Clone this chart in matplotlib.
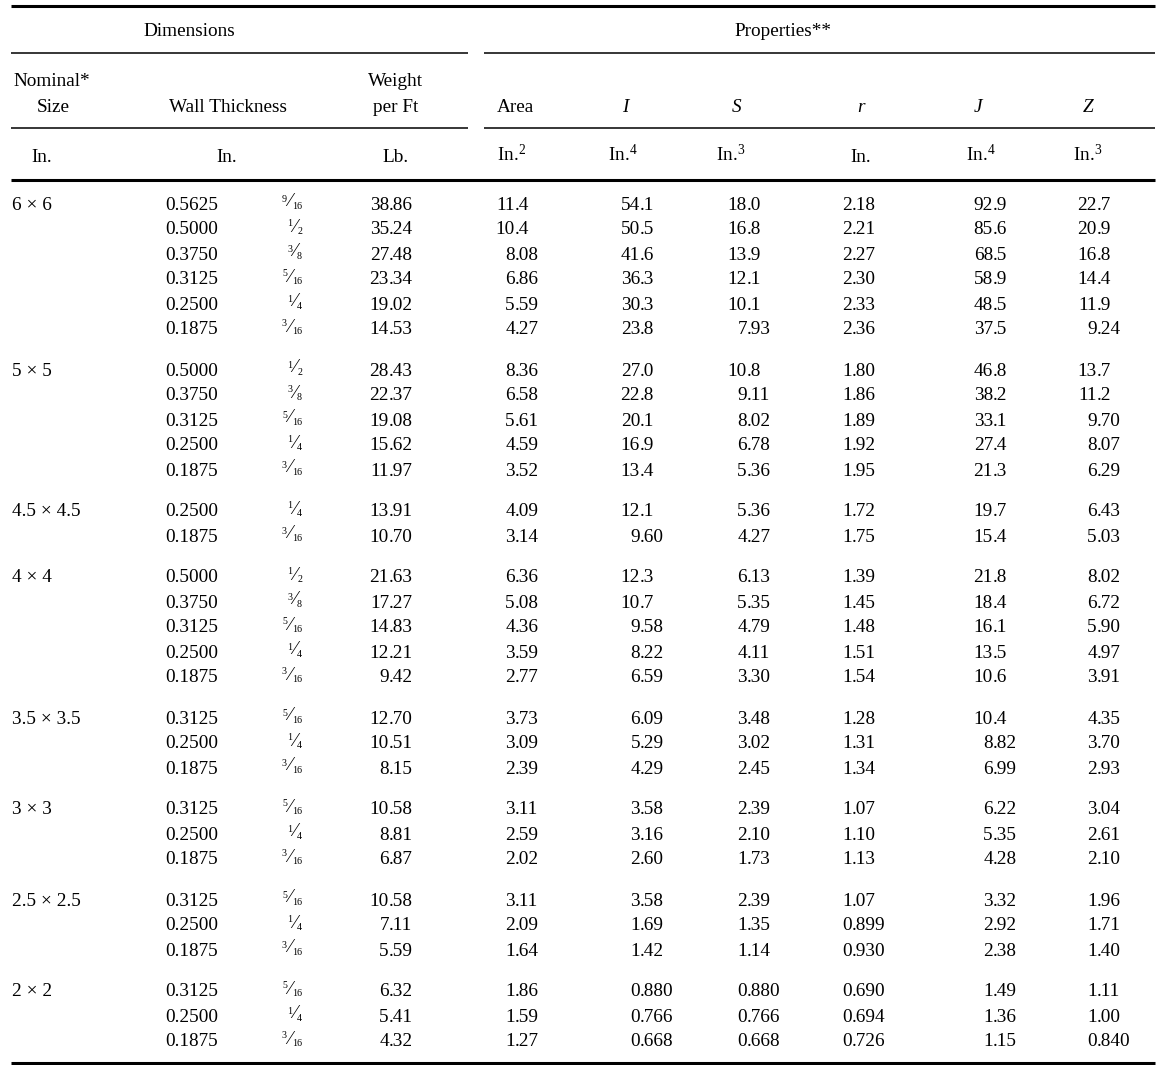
import matplotlib.pyplot as plt

plt.rcParams['font.family'] = 'Liberation Serif'
plt.rcParams['mathtext.fontset'] = 'custom'
plt.rcParams['mathtext.rm'] = 'Liberation Serif'
plt.rcParams['mathtext.it'] = 'Liberation Serif:italic'

# table data (square tubing)
sizes = ["6 × 6", "5 × 5", "4.5 × 4.5", "4 × 4", "3.5 × 3.5", "3 × 3", "2.5 × 2.5", "2 × 2"]
group_rows = [6, 5, 2, 5, 3, 3, 3, 3]

wall = ["0.5625", "0.5000", "0.3750", "0.3125", "0.2500", "0.1875",
        "0.5000", "0.3750", "0.3125", "0.2500", "0.1875",
        "0.2500", "0.1875",
        "0.5000", "0.3750", "0.3125", "0.2500", "0.1875",
        "0.3125", "0.2500", "0.1875",
        "0.3125", "0.2500", "0.1875",
        "0.3125", "0.2500", "0.1875",
        "0.3125", "0.2500", "0.1875"]
wall_frac = ["9/16", "1/2", "3/8", "5/16", "1/4", "3/16",
             "1/2", "3/8", "5/16", "1/4", "3/16",
             "1/4", "3/16",
             "1/2", "3/8", "5/16", "1/4", "3/16",
             "5/16", "1/4", "3/16",
             "5/16", "1/4", "3/16",
             "5/16", "1/4", "3/16",
             "5/16", "1/4", "3/16"]
weight = ["38.86", "35.24", "27.48", "23.34", "19.02", "14.53",
          "28.43", "22.37", "19.08", "15.62", "11.97",
          "13.91", "10.70",
          "21.63", "17.27", "14.83", "12.21", "9.42",
          "12.70", "10.51", "8.15",
          "10.58", "8.81", "6.87",
          "10.58", "7.11", "5.59",
          "6.32", "5.41", "4.32"]
area = ["11.4", "10.4", "8.08", "6.86", "5.59", "4.27",
        "8.36", "6.58", "5.61", "4.59", "3.52",
        "4.09", "3.14",
        "6.36", "5.08", "4.36", "3.59", "2.77",
        "3.73", "3.09", "2.39",
        "3.11", "2.59", "2.02",
        "3.11", "2.09", "1.64",
        "1.86", "1.59", "1.27"]
inertia = ["54.1", "50.5", "41.6", "36.3", "30.3", "23.8",
           "27.0", "22.8", "20.1", "16.9", "13.4",
           "12.1", "9.60",
           "12.3", "10.7", "9.58", "8.22", "6.59",
           "6.09", "5.29", "4.29",
           "3.58", "3.16", "2.60",
           "3.58", "1.69", "1.42",
           "0.880", "0.766", "0.668"]
section = ["18.0", "16.8", "13.9", "12.1", "10.1", "7.93",
           "10.8", "9.11", "8.02", "6.78", "5.36",
           "5.36", "4.27",
           "6.13", "5.35", "4.79", "4.11", "3.30",
           "3.48", "3.02", "2.45",
           "2.39", "2.10", "1.73",
           "2.39", "1.35", "1.14",
           "0.880", "0.766", "0.668"]
radius = ["2.18", "2.21", "2.27", "2.30", "2.33", "2.36",
          "1.80", "1.86", "1.89", "1.92", "1.95",
          "1.72", "1.75",
          "1.39", "1.45", "1.48", "1.51", "1.54",
          "1.28", "1.31", "1.34",
          "1.07", "1.10", "1.13",
          "1.07", "0.899", "0.930",
          "0.690", "0.694", "0.726"]
torsion = ["92.9", "85.6", "68.5", "58.9", "48.5", "37.5",
           "46.8", "38.2", "33.1", "27.4", "21.3",
           "19.7", "15.4",
           "21.8", "18.4", "16.1", "13.5", "10.6",
           "10.4", "8.82", "6.99",
           "6.22", "5.35", "4.28",
           "3.32", "2.92", "2.38",
           "1.49", "1.36", "1.15"]
plastic = ["22.7", "20.9", "16.8", "14.4", "11.9", "9.24",
           "13.7", "11.2", "9.70", "8.07", "6.29",
           "6.43", "5.03",
           "8.02", "6.72", "5.90", "4.97", "3.91",
           "4.35", "3.70", "2.93",
           "3.04", "2.61", "2.10",
           "1.96", "1.71", "1.40",
           "1.11", "1.00", "0.840"]

FS = 13.9
fig = plt.figure(figsize=(11.68, 10.65), dpi=100)
ax = fig.add_axes([0, 0, 1, 1])
ax.set_xlim(0, 1168)
ax.set_ylim(1065, 0)
ax.axis('off')


def txt(x, y, s, ha='left', **kw):
    # y is the vertical centre of capital letters
    ax.text(x, y + 6.5, s, ha=ha, va='baseline', fontsize=FS, **kw)


def dec_txt(x, y, s):
    a, b = s.split('.')
    txt(x, y, a, ha='right')
    txt(x, y, '.' + b, ha='left')


def frac_txt(xr, y, s):
    # small built-up fraction, right edge at xr
    num, den = s.split('/')
    fs = 7.2
    wd = len(den) * 5.0
    ax.text(xr, y + 6.3, den, ha='right', va='baseline', fontsize=fs)
    xs = xr - wd - 2
    ax.text(xs, y - 1, '\u2044', ha='center', va='center', fontsize=13)
    ax.text(xs - 3, y - 8.5, num, ha='right', va='top', fontsize=fs)


# rules
ax.hlines([6, 180, 1063], 11, 1155, color='black', lw=2.2)
ax.hlines([53, 128], 11, 468, color='black', lw=1.1)
ax.hlines([53, 128], 484, 1155, color='black', lw=1.1)

# header
txt(189, 30, "Dimensions", ha='center')
txt(783, 30, "Properties**", ha='center')
txt(13, 80, "Nominal*")
txt(53, 105, "Size", ha='center')
txt(228, 105, "Wall Thickness", ha='center')
txt(396, 80, "Weight", ha='center')
txt(396, 105, "per Ft", ha='center')
txt(515, 105, "Area", ha='center')
for xc, lab in zip([625, 737, 861, 978, 1088], ["I", "S", "r", "J", "Z"]):
    txt(xc, 105, lab, ha='center', style='italic')

units = [(42, "In."), (227, "In."), (396, "Lb."), (512, "In.$^{2}$"),
         (623, "In.$^{4}$"), (731, "In.$^{3}$"), (861, "In."),
         (981, "In.$^{4}$"), (1088, "In.$^{3}$")]
for xc, lab in units:
    txt(xc, 155, lab, ha='center')

# body
row_h, gap = 25, 16
i = 0
for g, (size, n) in enumerate(zip(sizes, group_rows)):
    for k in range(n):
        y = 203 + i * row_h + g * gap
        if k == 0:
            txt(12, y, size)
        txt(165, y, wall[i])
        frac_txt(302, y, wall_frac[i])
        dec_txt(389, y, weight[i])
        dec_txt(515, y, area[i])
        dec_txt(640, y, inertia[i])
        dec_txt(747, y, section[i])
        dec_txt(852, y, radius[i])
        dec_txt(993, y, torsion[i])
        dec_txt(1097, y, plastic[i])
        i += 1

fig.savefig('out.png', dpi=100)
